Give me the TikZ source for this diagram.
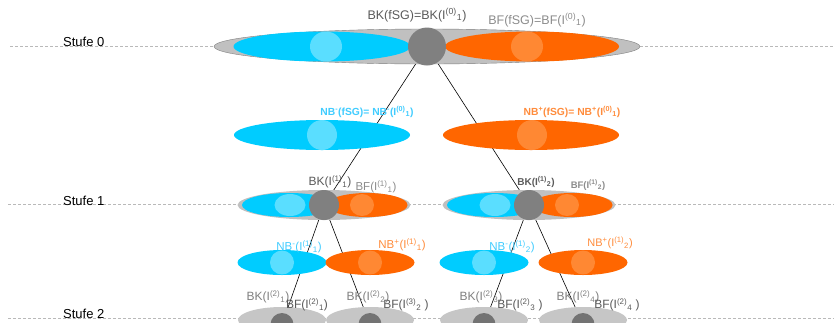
\documentclass[tikz,border=0pt]{standalone}
\usepackage{fontspec}
\setmainfont{Liberation Sans}
\usepackage{tikz}
\usetikzlibrary{shapes.geometric,backgrounds}
\definecolor{negcyan}{HTML}{00CCFF}
\definecolor{negcyanlight}{HTML}{5ADEFF}
\definecolor{posorange}{HTML}{FF6600}
\definecolor{posorangelight}{HTML}{FF8833}
\definecolor{hullgray}{HTML}{C0C0C0}
\definecolor{kerngray}{HTML}{808080}
\definecolor{bkgray}{HTML}{5A5A5A}
\definecolor{bfgray}{HTML}{8C8C8C}
\definecolor{neglabel}{HTML}{40CCFF}
\definecolor{poslabel}{HTML}{FF8C3C}
\newcommand*\Iset[2]{I\textsuperscript{(#1)}\textsubscript{#2}}
\newcommand*\lblsize{\fontsize{12.5}{14}\selectfont}
\newcommand*\smallsize{\fontsize{9.5}{11}\selectfont}
\tikzset{
    blob/.style      = {ellipse, inner sep=0pt, outer sep=0pt},
    wh/.style 2 args = {minimum width=#1pt, minimum height=#2pt},
    hull/.style      = {blob, fill=hullgray},
    negset/.style    = {blob, fill=negcyan},
    posset/.style    = {blob, fill=posorange},
    neglight/.style  = {blob, fill=negcyanlight},
    poslight/.style  = {blob, fill=posorangelight},
    kern/.style      = {circle, fill=kerngray, inner sep=0pt, outer sep=0pt},
    levelline/.style = {gray!55, densely dashed, line width=0.6pt},
    treeedge/.style  = {black, line width=0.6pt},
    stufelabel/.style= {anchor=base west, inner sep=0pt, font=\fontsize{13}{15}\selectfont},
    bklabel/.style   = {text=bkgray, inner sep=0pt, font=\lblsize},
    bflabel/.style   = {text=bfgray, inner sep=0pt, font=\lblsize},
    neglabel/.style  = {text=neglabel, inner sep=0pt, font=\lblsize},
    poslabel/.style  = {text=poslabel, inner sep=0pt, font=\lblsize},
}

\begin{document}
\begin{tikzpicture}[x=1pt, y=-1pt]
    \useasboundingbox (0,0) rectangle (834,322);

    % Stufe 0: the whole set
    \node[hull, draw=gray, wh={426}{35}] (h0) at (427,46.5) {};
    \node[negset, wh={177}{30}] (n0) at (322,46.5) {};
    \node[neglight, wh={32}{30}] (n0l) at (326,46.5) {};
    \node[posset, wh={174}{30}] (p0) at (532,46.5) {};
    \node[poslight, wh={32}{30}] (p0l) at (527,46.5) {};
    \node[kern, minimum size=38pt] (k0) at (427,46.5) {};

    % neighbourhoods of Stufe 0
    \node[negset, wh={176}{30}] (nb0m) at (322,135) {};
    \node[neglight, wh={30}{30}] (nb0ml) at (322,135) {};
    \node[posset, wh={176}{30}] (nb0p) at (531,135) {};
    \node[poslight, wh={30}{30}] (nb0pl) at (532,135) {};

    % Stufe 1: two parts
    \foreach \c/\n in {324/a, 529/b} {
        \node[hull, wh={173}{30}] (h1\n) at (\c,205) {};
        \node[negset, wh={94}{24}] (n1\n) at (\c-35,205) {};
        \node[neglight, wh={31}{22}] (n1\n l) at (\c-34,205) {};
        \node[posset, wh={81}{24}] (p1\n) at (\c+43,205) {};
        \node[poslight, wh={24}{22}] (p1\n l) at (\c+38,205) {};
        \node[kern, minimum size=30pt] (k1\n) at (\c,205) {};
    }

    % neighbourhoods of Stufe 1
    \foreach \c/\n in {282/a, 484/b} {
        \node[negset, wh={89}{25}] (nb1m\n) at (\c,262.5) {};
        \node[neglight, wh={24}{24}] (nb1m\n l) at (\c,262.5) {};
    }
    \foreach \c/\n in {370/a, 583/b} {
        \node[posset, wh={89}{25}] (nb1p\n) at (\c,262.5) {};
        \node[poslight, wh={24}{24}] (nb1p\n l) at (\c,262.5) {};
    }

    % Stufe 2: four parts (cut at the bottom)
    \foreach \c/\n in {282/1, 370/2, 484/3, 583/4} {
        \node[hull, fill=hullgray!90, wh={88}{26}] (h2\n) at (\c,320) {};
        \node[kern, fill=kerngray!90!black, minimum size=23pt] (k2\n) at (\c,324.5) {};
    }

    % levels and tree edges behind the sets
    \begin{scope}[on background layer]
        \draw[levelline] (10,46.5) -- (834,46.5);
        \draw[levelline] (8,204.5) -- (834,204.5);
        \draw[levelline] (8,318.5) -- (834,318.5);
        \draw[treeedge] (k0.center) -- (k1a.center);
        \draw[treeedge] (k0.center) -- (k1b.center);
        \draw[treeedge] (k1a.center) -- (k21.center);
        \draw[treeedge] (k1a.center) -- (k22.center);
        \draw[treeedge] (k1b.center) -- (k23.center);
        \draw[treeedge] (k1b.center) -- (k24.center);
    \end{scope}

    % level names
    \foreach \s/\y in {0/46.5, 1/205, 2/318} {
        \node[stufelabel] (stufe\s) at (63,\y) {Stufe \s};
    }

    % labels of Stufe 0
    \node[bklabel] (bk0) at (417,15) {BK(fSG)=BK(\Iset{0}{1})};
    \node[bflabel] (bf0) at (537,20) {BF(fSG)=BF(\Iset{0}{1})};
    \node[neglabel, font=\fontsize{10.3}{12}\selectfont\bfseries] (nbm0) at (367,112)
        {NB\textsuperscript{-}(fSG)= NB\textsuperscript{-}(\Iset{0}{1})};
    \node[poslabel, font=\fontsize{10.3}{12}\selectfont\bfseries] (nbp0) at (572,112)
        {NB\textsuperscript{+}(fSG)= NB\textsuperscript{+}(\Iset{0}{1})};

    % labels of Stufe 1
    \node[bklabel, font=\fontsize{12}{14}\selectfont] (bk1a) at (330,182) {BK(\Iset{1}{1})};
    \node[bflabel, font=\fontsize{11.5}{14}\selectfont] (bf1a) at (376,187) {BF(\Iset{1}{1})};
    \node[bklabel, font=\fontsize{10}{12}\selectfont\bfseries] (bk1b) at (536,182) {BK(\Iset{1}{2})};
    \node[bflabel, font=\smallsize\bfseries] (bf1b) at (588,185) {BF(\Iset{1}{2})};
    \node[neglabel, font=\fontsize{11.5}{14}\selectfont] (nbm1a) at (299,247)
        {NB\textsuperscript{-}(\Iset{1}{1})};
    \node[poslabel, font=\fontsize{11.5}{14}\selectfont] (nbp1a) at (402,245)
        {NB\textsuperscript{+}(\Iset{1}{1})};
    \node[neglabel, font=\fontsize{11.5}{14}\selectfont] (nbm1b) at (512,247)
        {NB\textsuperscript{-}(\Iset{1}{2})};
    \node[poslabel, font=\fontsize{11}{14}\selectfont] (nbp1b) at (610,243)
        {NB\textsuperscript{+}(\Iset{1}{2})};

    % labels of Stufe 2
    \foreach \x/\k in {268/1, 368/2, 481/3, 578/4} {
        \node[bflabel, text=gray, font=\fontsize{12}{14}\selectfont] (bk2\k) at (\x,297) {BK(\Iset{2}{\k})};
    }
    \node[bklabel, font=\fontsize{12}{14}\selectfont] (bf21) at (307,305) {BF(\Iset{2}{1})};
    \node[bklabel, font=\fontsize{12}{14}\selectfont] (bf22) at (406,305) {BF(\Iset{3}{2} )};
    \node[bklabel, font=\fontsize{12}{14}\selectfont] (bf23) at (520,305) {BF(\Iset{2}{3} )};
    \node[bklabel, font=\fontsize{12}{14}\selectfont] (bf24) at (617,305) {BF(\Iset{2}{4} )};
\end{tikzpicture}
\end{document}
